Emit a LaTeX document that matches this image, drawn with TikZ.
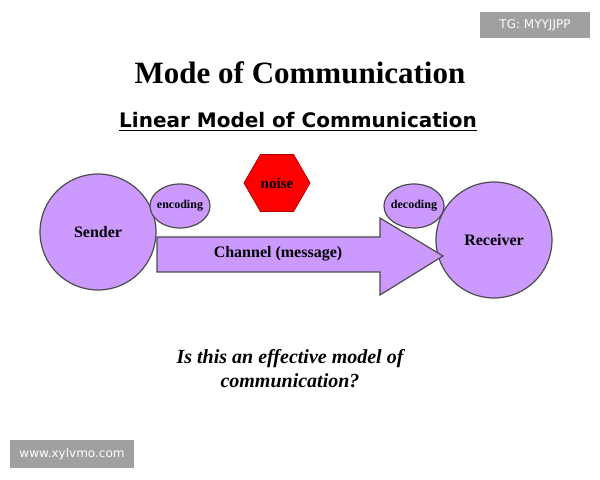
\documentclass[tikz,border=0pt]{standalone}
\usepackage{fontspec}
\setmainfont{Liberation Serif}
\newfontfamily\sansf{DejaVu Sans}
\usetikzlibrary{shapes.geometric}
\definecolor{vio}{HTML}{CC99FF}
\definecolor{wm}{HTML}{A0A0A0}
\begin{document}
\begin{tikzpicture}[x=0.5pt,y=-0.5pt,
  blob/.style={draw=black!70,fill=vio,line width=0.6pt},
  lab/.style={font=\bfseries\fontsize{8}{9}\selectfont},
  wmk/.style={fill=wm,text=white,font=\sansf\fontsize{6}{7}\selectfont}]
\useasboundingbox[fill=white] (0,0) rectangle (600,480);
\node[wmk,minimum width=55pt,minimum height=13pt] (tg) at (535,25) {TG: MYYJJPP};
\node[wmk,minimum width=62pt,minimum height=14pt] (www) at (72,454) {www.xylvmo.com};
\node[font=\bfseries\fontsize{15.5}{17}\selectfont] (title) at (300,73) {Mode of Communication};
\node[font=\sansf\bfseries\fontsize{10}{12}\selectfont] (sub) at (298,122) {\underline{Linear Model of Communication}};
\node[blob,circle,minimum size=58pt] (s) at (98,232) {};
\node[lab] (st) at (98,232) {Sender};
\node[blob,circle,minimum size=58pt] (r) at (494,240) {};
\node[blob,ellipse,minimum width=30pt,minimum height=22pt,font=\bfseries\fontsize{6}{7}\selectfont,inner sep=-1pt] (enc) at (180,206) {encoding};
\node[blob,ellipse,minimum width=30pt,minimum height=22pt,font=\bfseries\fontsize{6}{7}\selectfont,inner sep=-1pt] (dec) at (414,206) {decoding};
\node[draw=red!70!black,fill=red,regular polygon,regular polygon sides=6,minimum size=33pt,inner sep=0pt,font=\bfseries\fontsize{7.5}{8}\selectfont] (noise) at (277,183) {noise};
\draw[blob] (157,237) -- (380,237) -- (380,218) -- (443,256) -- (380,295) -- (380,272) -- (157,272) -- cycle;
\node[lab] (ch) at (278,254) {Channel (message)};
\node[lab] (rt) at (494,240) {Receiver};
\node[font=\bfseries\itshape\fontsize{10}{12}\selectfont,align=center] (q) at (290,369) {Is this an effective model of\\communication?};
\end{tikzpicture}
\end{document}
